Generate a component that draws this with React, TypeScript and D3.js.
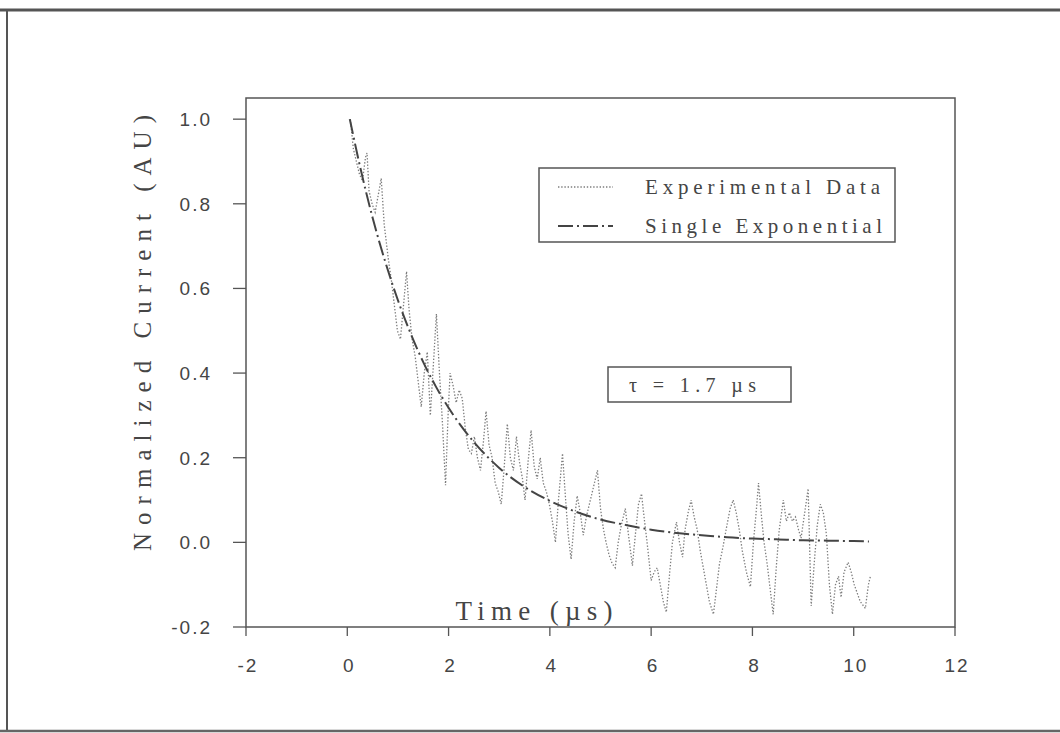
import React from "react";
import * as d3 from "d3";

// ---- data ----
const expTime = [
  0.06, 0.12, 0.18, 0.24, 0.3, 0.36, 0.39, 0.43, 0.49, 0.55, 0.61, 0.67, 0.73, 0.81, 0.87, 0.93, 0.99, 1.05,
  1.11, 1.17, 1.22, 1.28, 1.34, 1.4, 1.46, 1.52, 1.58, 1.64, 1.7, 1.76, 1.82, 1.88, 1.94, 1.99, 2.03, 2.09,
  2.15, 2.21, 2.27, 2.33, 2.39, 2.45, 2.51, 2.57, 2.63, 2.69, 2.74, 2.8, 2.86, 2.92, 2.98, 3.04, 3.1, 3.16,
  3.22, 3.28, 3.34, 3.4, 3.46, 3.51, 3.57, 3.63, 3.69, 3.75, 3.81, 3.87, 3.93, 3.99, 4.05, 4.11, 4.17, 4.25,
  4.3, 4.36, 4.42, 4.48, 4.54, 4.6, 4.66, 4.72, 4.8, 4.88, 4.94, 5.0, 5.06, 5.11, 5.17, 5.23, 5.29, 5.35,
  5.41, 5.49, 5.55, 5.63, 5.69, 5.75, 5.81, 5.86, 5.92, 6.0, 6.06, 6.12, 6.18, 6.24, 6.3, 6.36, 6.42, 6.5,
  6.56, 6.62, 6.67, 6.73, 6.79, 6.85, 6.91, 6.97, 7.03, 7.09, 7.15, 7.23, 7.29, 7.35, 7.42, 7.48, 7.56, 7.62,
  7.68, 7.74, 7.8, 7.88, 7.96, 8.02, 8.08, 8.12, 8.18, 8.23, 8.29, 8.35, 8.41, 8.47, 8.53, 8.61, 8.67, 8.73,
  8.79, 8.85, 8.91, 8.96, 9.02, 9.1, 9.16, 9.22, 9.28, 9.34, 9.4, 9.46, 9.52, 9.58, 9.64, 9.7, 9.75, 9.81,
  9.89, 9.95, 10.01, 10.07, 10.13, 10.23, 10.29, 10.33,
];
const expValue = [
  1.0, 0.93, 0.9, 0.87, 0.855, 0.91, 0.92, 0.83, 0.8, 0.78, 0.82, 0.86, 0.75, 0.67, 0.62, 0.56, 0.5, 0.48,
  0.56, 0.64, 0.55, 0.48, 0.44, 0.38, 0.32, 0.4, 0.45, 0.3, 0.42, 0.54, 0.4, 0.28, 0.135, 0.3, 0.4, 0.37,
  0.33, 0.36, 0.34, 0.27, 0.22, 0.21, 0.25, 0.2, 0.17, 0.24, 0.31, 0.23, 0.2, 0.14, 0.12, 0.09, 0.18, 0.28,
  0.2, 0.17, 0.25, 0.19, 0.15, 0.1, 0.19, 0.265, 0.18, 0.15, 0.2, 0.14, 0.12, 0.09, 0.05, 0.0, 0.1, 0.21,
  0.12, 0.02, -0.04, 0.05, 0.11, 0.07, 0.017, 0.06, 0.1, 0.14, 0.17, 0.08, 0.03, 0.0, -0.03, -0.05, -0.06, 0.0,
  0.04, 0.08, 0.02, -0.055, 0.02, 0.09, 0.115, 0.06, 0.0, -0.09, -0.07, -0.06, -0.1, -0.14, -0.165, -0.08, 0.0, 0.048,
  0.0, -0.035, 0.03, 0.07, 0.1, 0.06, 0.03, -0.02, -0.06, -0.1, -0.14, -0.17, -0.11, -0.05, -0.01, 0.03, 0.08, 0.1,
  0.07, 0.03, -0.02, -0.07, -0.105, 0.0, 0.08, 0.14, 0.06, 0.0, -0.05, -0.11, -0.17, -0.06, 0.03, 0.1, 0.05, 0.07,
  0.05, 0.06, 0.03, 0.01, 0.06, 0.127, -0.15, -0.05, 0.04, 0.09, 0.07, 0.02, -0.1, -0.17, -0.1, -0.08, -0.13, -0.07,
  -0.047, -0.07, -0.1, -0.12, -0.14, -0.156, -0.1, -0.08,
];
const fitTime = [0.05, 0.25, 0.5, 0.75, 1.0, 1.25, 1.5, 1.75, 2.0, 2.5, 3.0, 3.5, 4.0, 4.5, 5.0, 5.5, 6.0, 6.5, 7.0, 7.5, 8.0, 8.5, 9.0, 9.5, 10.0, 10.3];
const fitValue = [1.0, 0.889, 0.767, 0.663, 0.572, 0.494, 0.426, 0.368, 0.318, 0.237, 0.176, 0.131, 0.098, 0.073, 0.054, 0.041, 0.03, 0.022, 0.017, 0.012, 0.009, 0.007, 0.005, 0.004, 0.003, 0.002];

const xTicks = [-2, 0, 2, 4, 6, 8, 10, 12];
const yTicks = [-0.2, 0.0, 0.2, 0.4, 0.6, 0.8, 1.0];
const legendLabels = ["Experimental Data", "Single Exponential"];
const tauLabel = "\u03c4 = 1.7 \u00b5s";
const xTitle = "Time (\u00b5s)";
const yTitle = "Normalized Current (AU)";

// ---- layout ----
const W = 1060;
const H = 733;
const plot = { left: 246, right: 955, top: 98, bottom: 627 };
const ink = "#454545";
const serif = "'Liberation Serif', 'Times New Roman', serif";
const sans = "'Liberation Sans', Arial, sans-serif";

export default function App() {
  const x = d3.scaleLinear().domain([-2, 12]).range([plot.left, plot.right]);
  const y = d3.scaleLinear().domain([-0.2, 1.05]).range([plot.bottom, plot.top]);

  const dataPts: [number, number][] = expTime.map((t, i) => [t, expValue[i]]);
  const fitPts: [number, number][] = fitTime.map((t, i) => [t, fitValue[i]]);
  const dataLine = d3.line<[number, number]>().x((d) => x(d[0])).y((d) => y(d[1]));
  const fitLine = d3
    .line<[number, number]>()
    .x((d) => x(d[0]))
    .y((d) => y(d[1]))
    .curve(d3.curveMonotoneX);

  const dotted = { stroke: "#7d7d7d", strokeWidth: 1.3, strokeDasharray: "1.4 1.8", fill: "none" };
  const dashDot = { stroke: "#444", strokeWidth: 2, strokeDasharray: "15 4 2 4", fill: "none" };

  return (
    <svg
      width={W}
      height={H}
      viewBox={`0 0 ${W} ${H}`}
      style={{ position: "absolute", left: 0, top: 0, background: "#fff" }}
    >
      <rect x={0} y={0} width={W} height={H} fill="#fff" />
      {/* outer frame (scanned page border) */}
      <line x1={0} x2={W} y1={10} y2={10} stroke="#555" strokeWidth={3} />
      <line x1={7} x2={7} y1={9} y2={731} stroke="#555" strokeWidth={2} />
      <line x1={0} x2={W} y1={731} y2={731} stroke="#666" strokeWidth={2.5} />

      {/* plot box */}
      <rect
        x={plot.left}
        y={plot.top}
        width={plot.right - plot.left}
        height={plot.bottom - plot.top}
        fill="none"
        stroke="#555"
        strokeWidth={1.5}
      />

      {/* y ticks */}
      {yTicks.map((v) => (
        <g key={"y" + v}>
          <line x1={plot.left - 13} x2={plot.left} y1={y(v)} y2={y(v)} stroke="#555" strokeWidth={1.3} />
          <text
            x={212}
            y={y(v) + 7}
            textAnchor="end"
            fontFamily={sans}
            fontSize={19}
            fill={ink}
            letterSpacing={2}
          >
            {d3.format(".1f")(v).replace("−", "-")}
          </text>
        </g>
      ))}

      {/* x ticks */}
      {xTicks.map((v) => (
        <g key={"x" + v}>
          <line x1={x(v)} x2={x(v)} y1={plot.bottom} y2={plot.bottom + 9} stroke="#555" strokeWidth={1.3} />
          <text
            x={x(v) + 2}
            y={672}
            textAnchor="middle"
            fontFamily={sans}
            fontSize={19}
            fill={ink}
            letterSpacing={2}
          >
            {String(v).replace("−", "-")}
          </text>
        </g>
      ))}

      {/* series */}
      <path d={dataLine(dataPts) || ""} {...dotted} />
      <path d={fitLine(fitPts) || ""} {...dashDot} />

      {/* axis titles */}
      <text
        x={534}
        y={620}
        textAnchor="middle"
        fontFamily={serif}
        fontSize={27}
        fill={ink}
        textLength={157}
        lengthAdjust="spacing"
      >
        {xTitle}
      </text>
      <text
        transform={`translate(151, 333) rotate(-90)`}
        textAnchor="middle"
        fontFamily={serif}
        fontSize={25}
        fill={ink}
        textLength={436}
        lengthAdjust="spacing"
      >
        {yTitle}
      </text>

      {/* legend */}
      <rect x={539} y={168} width={356} height={74} fill="#fff" stroke="#555" strokeWidth={1.5} />
      <line x1={558} x2={613} y1={187} y2={187} {...dotted} />
      <line x1={558} x2={613} y1={226} y2={226} {...dashDot} />
      <text x={645} y={194} fontFamily={serif} fontSize={21} fill={ink} textLength={235} lengthAdjust="spacing">
        {legendLabels[0]}
      </text>
      <text x={645} y={233} fontFamily={serif} fontSize={21} fill={ink} textLength={237} lengthAdjust="spacing">
        {legendLabels[1]}
      </text>

      {/* tau annotation */}
      <rect x={608} y={367} width={183} height={35} fill="#fff" stroke="#555" strokeWidth={1.5} />
      <text x={629} y={392} fontFamily={serif} fontSize={20} fill={ink} textLength={127} lengthAdjust="spacing">
        {tauLabel}
      </text>
    </svg>
  );
}
